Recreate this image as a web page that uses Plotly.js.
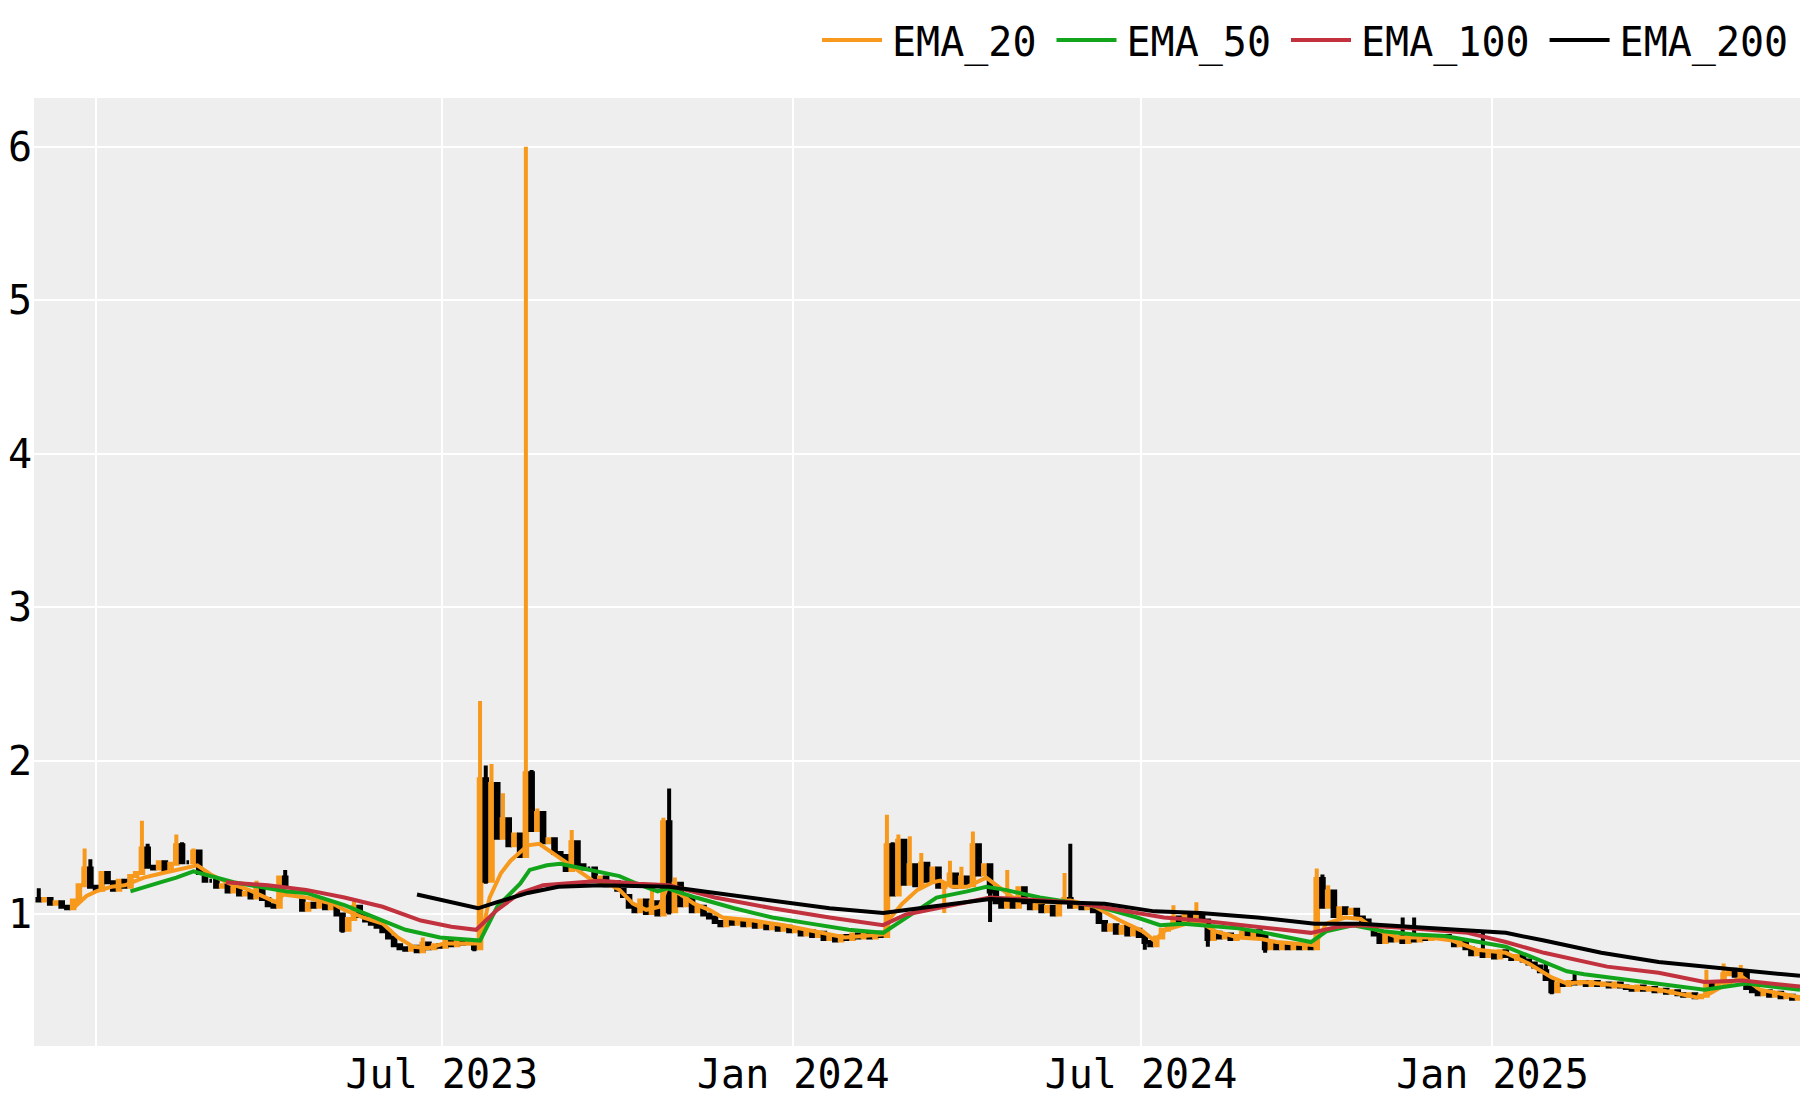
<!DOCTYPE html>
<html><head><meta charset="utf-8">
<script src="https://cdn.plot.ly/plotly-3.0.1.min.js"></script>
<style>
html,body{margin:0;padding:0;background:#fff}
#wrap{width:1800px;height:1100px;position:relative}
#chart{width:900px;height:550px;transform:scale(2);transform-origin:0 0;position:absolute;left:0;top:0}
</style>
</head><body><div id="wrap"><div id="chart"></div></div>
<script>
// ---------------- DATA ----------------
// Candles sampled every 3 days starting at startDate; null = no data.
const startDate = '2022-12-02';
const stepDays = 3;
const closes = [
  1.09,1.10,1.07,1.08,1.05,1.04,1.09,1.19,1.30,1.18,
  1.16,1.27,1.21,1.16,1.22,1.18,1.25,1.27,1.43,1.31,
  1.30,1.34,1.29,1.33,1.45,1.34,1.34,1.41,1.27,1.22,
  1.22,1.18,1.19,1.15,1.17,1.13,1.14,1.11,1.17,1.10,
  1.06,1.05,1.24,1.19,null,null,1.03,1.07,1.05,1.08,
  1.04,1.06,1.00,0.90,0.97,1.05,0.99,0.96,0.94,0.92,
  0.89,0.85,0.80,0.78,0.77,0.79,0.76,0.81,0.78,0.80,
  0.79,0.82,0.80,0.83,0.81,0.82,0.78,1.88,1.22,1.85,
  1.50,1.62,1.45,1.52,1.38,1.92,1.55,1.66,1.47,1.49,
  1.40,1.38,1.29,1.47,1.32,1.30,1.30,1.22,1.24,1.19,
  1.21,1.16,1.12,1.05,1.02,1.09,1.01,1.08,1.00,1.60,
  1.02,1.20,1.06,1.10,1.02,1.05,1.00,0.98,0.95,0.93,
  0.97,0.94,0.96,0.93,0.95,0.92,0.94,0.91,0.93,0.90,
  0.92,0.89,0.90,0.87,0.89,0.86,0.88,0.84,0.86,0.83,
  0.86,0.84,0.87,0.85,0.87,0.85,0.88,0.86,1.45,1.13,
  1.48,1.20,1.32,1.19,1.33,1.22,1.30,1.18,1.20,1.26,
  1.18,1.24,1.19,1.45,1.26,1.32,1.15,1.08,1.05,1.10,
  1.05,1.17,1.08,1.04,1.06,1.02,1.05,1.00,1.08,1.10,
  1.05,1.07,1.04,1.06,1.02,0.95,0.90,0.93,0.88,0.92,
  0.87,0.90,0.86,0.82,0.80,0.85,0.90,0.93,0.98,0.96,
  0.99,0.95,1.00,0.96,0.84,0.88,0.85,0.87,0.84,0.86,
  0.88,0.86,0.89,0.86,0.78,0.81,0.78,0.80,0.78,0.80,
  0.78,0.79,0.78,1.23,1.05,1.15,0.99,1.04,1.01,1.03,
  0.98,0.96,0.92,0.87,0.82,0.86,0.83,0.85,0.82,0.86,
  0.83,0.86,0.84,0.86,0.85,0.86,0.84,0.80,0.82,0.78,
  0.74,0.76,0.73,0.75,0.72,0.76,0.73,0.71,0.73,0.70,
  0.68,0.66,0.63,0.58,0.50,0.55,0.54,0.56,0.55,0.56,
  0.54,0.56,0.54,0.55,0.53,0.55,0.53,0.52,0.51,0.53,
  0.51,0.52,0.50,0.51,0.49,0.50,0.48,0.47,0.48,0.46,
  0.47,0.55,0.53,0.56,0.61,0.64,0.60,0.62,0.52,0.50,
  0.48,0.50,0.47,0.49,0.46,0.47,0.45,0.46
];
// Opens where the candle does not start at the previous close
const openOverrides = [['2022-12-02', 1.10], ['2023-04-19', 1.09]];
// Wicks (highs above the body / lows below the body)
const wickHighs = [
  ['2022-12-02',1.17],['2022-12-26',1.43],['2022-12-29',1.36],['2023-01-25',1.61],
  ['2023-01-28',1.46],['2023-02-12',1.52],['2023-02-15',1.47],['2023-02-21',1.43],
  ['2023-03-26',1.22],['2023-04-10',1.29],['2023-05-16',1.09],['2023-06-21',0.85],
  ['2023-07-21',2.39],['2023-07-24',1.97],['2023-07-27',1.98],['2023-08-02',1.79],
  ['2023-08-14',6.00],['2023-08-17',1.94],['2023-08-20',1.69],['2023-09-07',1.55],
  ['2023-10-19',1.20],['2023-10-25',1.63],['2023-10-28',1.82],['2023-10-31',1.24],
  ['2024-02-19',1.65],['2024-02-22',1.47],['2024-02-25',1.52],['2024-03-02',1.51],
  ['2024-03-08',1.40],['2024-03-23',1.35],['2024-03-29',1.31],['2024-04-04',1.54],
  ['2024-04-07',1.43],['2024-04-22',1.29],['2024-05-22',1.27],['2024-05-25',1.46],
  ['2024-07-18',1.06],['2024-07-30',1.08],['2024-08-23',0.94],['2024-10-01',1.30],
  ['2024-10-04',1.26],['2024-10-07',1.19],['2024-11-15',0.98],['2024-11-21',0.98],
  ['2024-12-27',0.88],['2025-01-29',0.68],['2025-02-13',0.62],['2025-04-23',0.64],
  ['2025-05-02',0.68],['2025-05-11',0.67]
];
const wickLows = [
  ['2023-05-10',0.88],['2023-07-18',0.76],['2023-07-24',1.20],['2023-10-28',1.00],
  ['2024-03-20',1.01],['2024-04-13',0.95],['2024-07-03',0.77],['2024-08-05',0.79],
  ['2024-09-04',0.75],['2025-02-01',0.48]
];

// EMA lines (values read at their bends)
const ema20Dates = ['2022-12-20','2022-12-27','2023-01-01','2023-01-09','2023-01-16','2023-01-26','2023-02-05','2023-02-15','2023-02-23','2023-03-02','2023-03-12','2023-03-22','2023-04-01','2023-04-05','2023-04-09','2023-04-21','2023-05-05','2023-05-11','2023-05-21','2023-05-31','2023-06-08','2023-06-16','2023-06-24','2023-07-02','2023-07-18','2023-07-21','2023-07-26','2023-08-01','2023-08-06','2023-08-11','2023-08-15','2023-08-21','2023-08-28','2023-09-05','2023-09-11','2023-09-18','2023-09-26','2023-10-02','2023-10-09','2023-10-16','2023-10-23','2023-10-27','2023-11-03','2023-11-10','2023-11-18','2023-11-25','2023-12-11','2023-12-27','2024-01-12','2024-01-28','2024-02-17','2024-02-21','2024-02-27','2024-03-06','2024-03-14','2024-03-18','2024-03-24','2024-04-01','2024-04-11','2024-04-17','2024-04-25','2024-05-09','2024-05-25','2024-06-07','2024-06-20','2024-07-02','2024-07-08','2024-07-14','2024-07-25','2024-08-01','2024-08-09','2024-08-21','2024-09-02','2024-09-10','2024-09-30','2024-10-06','2024-10-16','2024-10-24','2024-11-01','2024-11-13','2024-11-29','2024-12-11','2024-12-24','2025-01-08','2025-01-20','2025-02-01','2025-02-09','2025-02-18','2025-03-09','2025-03-29','2025-04-18','2025-04-24','2025-05-04','2025-05-12','2025-05-21','2025-06-11'];
const ema20 = [1.04,1.12,1.15,1.18,1.19,1.24,1.27,1.30,1.32,1.26,1.20,1.16,1.11,1.08,1.13,1.11,1.07,1.03,0.98,0.94,0.85,0.79,0.78,0.81,0.81,0.81,1.11,1.27,1.35,1.40,1.45,1.46,1.40,1.33,1.27,1.22,1.20,1.16,1.07,1.03,1.05,1.18,1.13,1.07,1.03,0.98,0.96,0.93,0.89,0.85,0.87,0.98,1.07,1.16,1.21,1.22,1.18,1.18,1.24,1.18,1.11,1.08,1.09,1.05,0.96,0.89,0.83,0.90,0.94,0.95,0.89,0.85,0.84,0.82,0.80,0.94,0.98,0.97,0.90,0.85,0.85,0.83,0.77,0.75,0.68,0.59,0.55,0.56,0.54,0.51,0.46,0.48,0.55,0.59,0.51,0.46];

const ema50Dates = ['2023-01-19','2023-01-26','2023-02-04','2023-02-12','2023-02-21','2023-02-24','2023-03-14','2023-04-01','2023-04-11','2023-04-21','2023-05-11','2023-05-31','2023-06-12','2023-06-30','2023-07-18','2023-07-21','2023-07-30','2023-08-11','2023-08-16','2023-08-25','2023-09-01','2023-09-18','2023-10-02','2023-10-13','2023-10-22','2023-10-27','2023-11-03','2023-11-11','2023-12-01','2023-12-21','2024-01-10','2024-01-30','2024-02-17','2024-02-29','2024-03-16','2024-04-01','2024-04-11','2024-04-21','2024-05-09','2024-05-25','2024-06-09','2024-06-29','2024-07-11','2024-07-23','2024-08-01','2024-08-21','2024-09-04','2024-09-28','2024-10-06','2024-10-20','2024-11-05','2024-11-21','2024-12-07','2024-12-24','2025-01-08','2025-01-24','2025-02-09','2025-02-18','2025-03-19','2025-04-22','2025-05-09','2025-05-14','2025-06-11'];
const ema50 = [1.15,1.18,1.21,1.24,1.28,1.27,1.21,1.17,1.15,1.14,1.06,0.96,0.90,0.85,0.83,0.83,1.05,1.20,1.29,1.32,1.33,1.29,1.25,1.19,1.15,1.17,1.14,1.11,1.04,0.98,0.94,0.90,0.88,0.98,1.11,1.15,1.18,1.16,1.11,1.08,1.05,0.98,0.93,0.94,0.93,0.91,0.88,0.82,0.89,0.93,0.89,0.87,0.86,0.82,0.79,0.71,0.63,0.61,0.56,0.51,0.54,0.55,0.51];

const ema100Dates = ['2023-03-10','2023-04-01','2023-04-21','2023-05-11','2023-05-31','2023-06-20','2023-07-06','2023-07-19','2023-07-30','2023-08-11','2023-08-23','2023-09-08','2023-09-22','2023-10-12','2023-10-28','2023-11-21','2023-12-21','2024-01-20','2024-02-17','2024-02-29','2024-03-20','2024-04-13','2024-04-29','2024-05-25','2024-06-19','2024-07-13','2024-08-01','2024-08-31','2024-09-28','2024-10-12','2024-10-24','2024-11-19','2024-12-19','2025-01-08','2025-01-28','2025-03-02','2025-03-29','2025-04-22','2025-05-12','2025-06-11'];
const ema100 = [1.21,1.19,1.16,1.11,1.05,0.96,0.92,0.90,1.03,1.14,1.19,1.21,1.22,1.20,1.19,1.11,1.04,0.98,0.93,1.00,1.05,1.11,1.10,1.08,1.03,0.98,0.96,0.92,0.88,0.92,0.93,0.91,0.88,0.82,0.75,0.66,0.62,0.56,0.57,0.53];

const ema200Dates = ['2023-06-18','2023-07-20','2023-07-30','2023-08-15','2023-08-31','2023-09-22','2023-10-28','2023-12-11','2024-01-20','2024-02-17','2024-03-20','2024-04-13','2024-05-19','2024-06-12','2024-07-08','2024-08-01','2024-08-31','2024-09-30','2024-10-24','2024-11-29','2025-01-08','2025-01-28','2025-02-27','2025-03-29','2025-05-02','2025-06-11'];
const ema200 = [1.13,1.04,1.08,1.14,1.18,1.19,1.18,1.11,1.04,1.01,1.06,1.10,1.08,1.07,1.02,1.01,0.98,0.94,0.94,0.91,0.88,0.83,0.75,0.69,0.65,0.60];

const seriesNames = ['EMA_20','EMA_50','EMA_100','EMA_200'];
const seriesColors = ['#f7991c','#12a51c','#c2323e','#000000'];
const upColor = '#f7991c';
const downColor = '#000000';

// ---------------- BUILD ----------------
function addDays(s, n){
  const t = new Date(s + 'T00:00:00Z');
  t.setUTCDate(t.getUTCDate() + n);
  return t.toISOString().slice(0,10);
}
const openMap = Object.fromEntries(openOverrides);
const hiMap = Object.fromEntries(wickHighs);
const loMap = Object.fromEntries(wickLows);
const cx=[], co=[], ch=[], cl=[], cc=[];
let prev = null;
closes.forEach((c, i) => {
  const d = addDays(startDate, i*stepDays);
  if (c === null) { prev = null; return; }
  let o = (d in openMap) ? openMap[d] : (prev === null ? c : prev);
  let h = Math.max(o, c), l = Math.min(o, c);
  if (d in hiMap) h = Math.max(h, hiMap[d]);
  if (d in loMap) l = Math.min(l, loMap[d]);
  cx.push(d); co.push(o); ch.push(h); cl.push(l); cc.push(c);
  prev = c;
});

const traces = [{
  type:'candlestick', x:cx, open:co, high:ch, low:cl, close:cc,
  increasing:{line:{color:upColor, width:2}, fillcolor:upColor},
  decreasing:{line:{color:downColor, width:2}, fillcolor:downColor},
  showlegend:false, hoverinfo:'skip'
}];
const emaX = [ema20Dates, ema50Dates, ema100Dates, ema200Dates];
const emaY = [ema20, ema50, ema100, ema200];
seriesNames.forEach((n, k) => {
  traces.push({type:'scatter', mode:'lines', name:n, x:emaX[k], y:emaY[k],
    line:{color:seriesColors[k], width:2}});
});

const layout = {
  width:900, height:550, autosize:false,
  margin:{l:17, r:0, t:49, b:27, pad:0},
  paper_bgcolor:'#ffffff', plot_bgcolor:'#eeeeee',
  font:{family:'DejaVu Sans Mono, monospace', size:20, color:'#000'},
  boxgap:0.35,
  showlegend:true,
  legend:{orientation:'h', x:1, xanchor:'right', y:1.02, yanchor:'bottom',
          bgcolor:'rgba(0,0,0,0)', font:{size:20}},
  xaxis:{type:'date', range:['2022-11-29 12:00','2025-06-11'],
         tick0:'2023-01-01', dtick:'M6', tickformat:'%b %Y',
         gridcolor:'#ffffff', gridwidth:1, showline:false, zeroline:false,
         ticks:'', rangeslider:{visible:false}},
  yaxis:{range:[0.143, 6.318], dtick:1, tick0:0,
         gridcolor:'#ffffff', gridwidth:1, showline:false, zeroline:false, ticks:''}
};
Plotly.newPlot('chart', traces, layout, {displayModeBar:false, staticPlot:true});
</script>
</body></html>
